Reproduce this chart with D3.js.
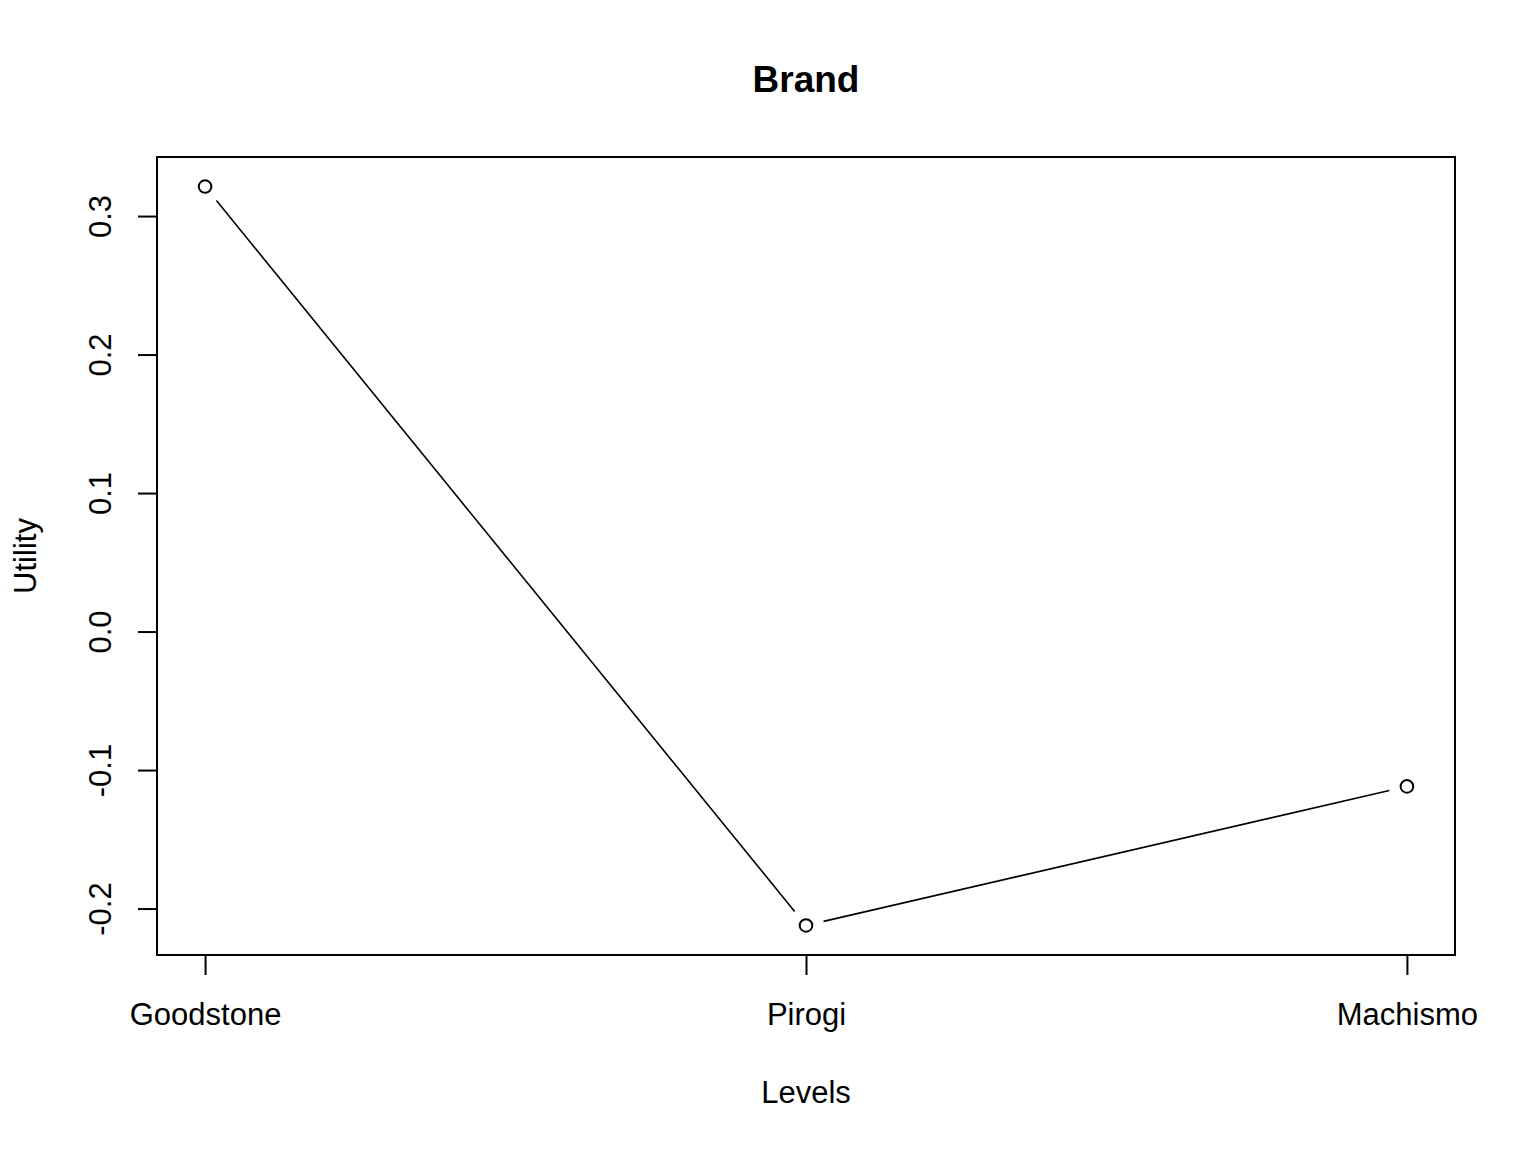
<!DOCTYPE html>
<html><head><meta charset="utf-8">
<script src="https://cdn.jsdelivr.net/npm/d3@7"></script>
<style>body{margin:0;background:#fff}svg{display:block}text{font-family:"Liberation Sans",Arial,sans-serif;fill:#000}</style>
</head><body>
<script>
const categories = ["Goodstone", "Pirogi", "Machismo"];
const utilities = [0.3213, -0.2122, -0.1118];
const yTicks = [-0.2, -0.1, 0.0, 0.1, 0.2, 0.3];
const title = "Brand", xTitle = "Levels", yTitle = "Utility";

const W = 1536, H = 1152;
const m = {l:157, r:1455, t:157, b:955};
const svg = d3.select("body").append("svg").attr("width", W).attr("height", H);

const idx = categories.map((_, i) => i + 1);
const xr = 2, yMin = d3.min(utilities), yMax = d3.max(utilities), yr = yMax - yMin;
const x = d3.scaleLinear().domain([1 - 0.04*xr, 3 + 0.04*xr]).range([m.l, m.r]);
const y = d3.scaleLinear().domain([yMin - 0.04*yr, yMax + 0.04*yr]).range([m.b, m.t]);

svg.append("rect").attr("x", m.l).attr("y", m.t).attr("width", m.r - m.l).attr("height", m.b - m.t)
  .attr("fill", "none").attr("stroke", "#000").attr("stroke-width", 2);

const xAxis = d3.axisBottom(x).tickValues(idx).tickFormat((d) => categories[d-1]).tickSize(20).tickPadding(28);
const gx = svg.append("g").attr("transform", `translate(0,${m.b})`).call(xAxis);
gx.select(".domain").remove();
gx.selectAll("line").attr("stroke", "#000").attr("stroke-width", 2);
gx.selectAll("text").attr("font-size", 31).attr("font-family", "Liberation Sans, Arial, sans-serif").attr("fill", "#000");

const fmt = d3.format(".1f");
const yAxis = d3.axisLeft(y).tickValues(yTicks).tickFormat(d => fmt(d).replace("\u2212", "-")).tickSize(19).tickPadding(0);
const gy = svg.append("g").attr("transform", `translate(${m.l},0)`).call(yAxis);
gy.select(".domain").remove();
gy.selectAll("line").attr("stroke", "#000").attr("stroke-width", 2);
gy.selectAll("text").attr("font-size", 31).attr("font-family", "Liberation Sans, Arial, sans-serif").attr("fill", "#000")
  .attr("x", null).attr("dy", null)
  .attr("text-anchor", "middle")
  .attr("transform", "translate(-46,0) rotate(-90)");

const pts = idx.map((d, i) => [x(d), y(utilities[i])]);
const gap = 18;
for (let i = 0; i < pts.length - 1; i++) {
  const [x1, y1] = pts[i], [x2, y2] = pts[i+1];
  const dx = x2 - x1, dy = y2 - y1, L = Math.hypot(dx, dy);
  const ux = dx / L, uy = dy / L;
  svg.append("line")
    .attr("x1", x1 + ux*gap).attr("y1", y1 + uy*gap)
    .attr("x2", x2 - ux*gap).attr("y2", y2 - uy*gap)
    .attr("stroke", "#000").attr("stroke-width", 1.6);
}
svg.selectAll("circle.pt").data(pts).enter().append("circle").attr("class", "pt")
  .attr("cx", d => d[0]).attr("cy", d => d[1]).attr("r", 6.3)
  .attr("fill", "none").attr("stroke", "#000").attr("stroke-width", 2);

svg.append("text").attr("x", (m.l + m.r)/2).attr("y", 92).attr("text-anchor", "middle")
  .attr("font-size", 37).attr("font-weight", "bold").text(title);
svg.append("text").attr("x", (m.l + m.r)/2).attr("y", 1103).attr("text-anchor", "middle")
  .attr("font-size", 31).text(xTitle);
svg.append("text").attr("transform", `translate(36,${(m.t + m.b)/2}) rotate(-90)`).attr("text-anchor", "middle")
  .attr("font-size", 31).text(yTitle);
</script>
</body></html>
